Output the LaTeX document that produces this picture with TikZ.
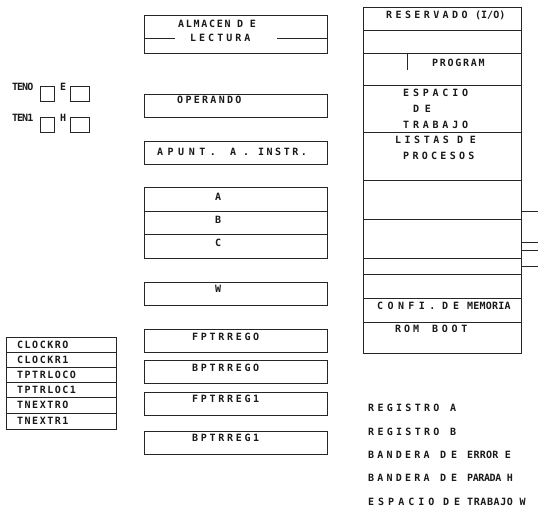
\documentclass[tikz,border=0pt]{standalone}
\usepackage{fontspec}
\newfontfamily\mono[BoldFont={DejaVu Sans Mono Bold}]{DejaVu Sans Mono}
\newcounter{wc}
\tikzset{
  lbl/.style={anchor=base west, inner sep=0pt, font=\mono\bfseries\fontsize{10}{11}\selectfont, text=black!90},
  boxline/.style={draw=black!85, line width=1pt},
}
\newcommand\wtxt[4]{\stepcounter{wc}\node[lbl,name=w\arabic{wc}] at (#1,#2+3.5) {\addfontfeature{LetterSpace=#3}#4};}
\begin{document}
\begin{tikzpicture}[x=1pt,y=-1pt]
\useasboundingbox (0,0) rectangle (538,507);
% ---- small flag boxes
\draw[boxline] (40,86) rectangle (54,101);
\draw[boxline] (70,86) rectangle (89,101);
\draw[boxline] (40,117) rectangle (54,132);
\draw[boxline] (70,117) rectangle (89,132);
\wtxt{12}{86.5}{-10}{TENO}
\wtxt{60}{86.5}{0}{E}
\wtxt{12}{118}{-10}{TEN1}
\wtxt{60}{118}{0}{H}
% ---- middle column
\draw[boxline] (144,15) rectangle (327,53);
\draw[boxline] (144,38) -- (175,38);
\draw[boxline] (277,38) -- (327,38);
\wtxt{178}{23.5}{17}{ALMACEN}
\wtxt{237}{23.5}{67}{DE}
\wtxt{190}{38}{30}{LECTURA}
\draw[boxline] (144,94) rectangle (327,117);
\wtxt{177}{100}{23}{OPERANDO}
\draw[boxline] (144,141) rectangle (327,164);
\wtxt{157}{152}{45}{APUNT.}
\wtxt{230}{152}{0}{A}
\wtxt{243}{152}{0}{.}
\wtxt{258}{152}{25}{INSTR.}
\draw[boxline] (144,187) rectangle (327,258);
\draw[boxline] (144,211) -- (327,211);
\draw[boxline] (144,234) -- (327,234);
\wtxt{215}{196.7}{0}{A}
\wtxt{215}{220}{0}{B}
\wtxt{215}{243}{0}{C}
\draw[boxline] (144,282) rectangle (327,305);
\wtxt{215}{289}{0}{W}
\draw[boxline] (144,329) rectangle (327,352);
\wtxt{192}{336.7}{27}{FPTRREGO}
\draw[boxline] (144,360) rectangle (327,383);
\wtxt{192}{367.7}{27}{BPTRREGO}
\draw[boxline] (144,392) rectangle (327,415);
\wtxt{192}{399}{27}{FPTRREG1}
\draw[boxline] (144,431) rectangle (327,454);
\wtxt{192}{438}{27}{BPTRREG1}
% ---- right column (memory map)
\draw[boxline] (363,7) rectangle (521,353);
\foreach \yy in {30,53.5,85,132,180,219,258,274,298,322}
  \draw[boxline] (363,\yy) -- (521,\yy);
\draw[boxline] (407,54) -- (407,70);
\foreach \yy in {211,242,250,266}
  \draw[boxline] (521,\yy) -- (538,\yy);
\wtxt{386}{15}{34}{RESERVADO}
\wtxt{475}{15}{0}{(I/O)}
\wtxt{432}{63.3}{17}{PROGRAM}
\wtxt{403}{93.3}{38}{ESPACIO}
\wtxt{413}{109}{56}{DE}
\wtxt{403}{125}{38}{TRABAJO}
\wtxt{395}{140}{35}{LISTAS}
\wtxt{457}{140}{66}{DE}
\wtxt{403}{156}{33}{PROCESOS}
\wtxt{377}{306}{44}{CONFI.}
\wtxt{442}{306}{50}{DE}
\wtxt{467}{306}{2}{MEMORIA}
\wtxt{395}{329.3}{30}{ROM}
\wtxt{432}{329.3}{37}{BOOT}
% ---- left register list
\draw[boxline] (6,337) rectangle (116,429);
\foreach \yy in {352,367,382,397,413}
  \draw[boxline] (6,\yy) -- (116,\yy);
\wtxt{17}{344.5}{15}{CLOCKRO}
\wtxt{17}{359.5}{15}{CLOCKR1}
\wtxt{17}{374.5}{15}{TPTRLOCO}
\wtxt{17}{389.8}{15}{TPTRLOC1}
\wtxt{17}{405.3}{15}{TNEXTRO}
\wtxt{17}{421.3}{15}{TNEXTR1}
% ---- legend
\wtxt{368}{408.3}{33}{REGISTRO}
\wtxt{450}{408.3}{0}{A}
\wtxt{368}{431.7}{33}{REGISTRO}
\wtxt{450}{431.7}{0}{B}
\wtxt{368}{455}{32}{BANDERA}
\wtxt{440}{455}{50}{DE}
\wtxt{467}{455}{3}{ERROR E}
\wtxt{368}{478.3}{32}{BANDERA}
\wtxt{440}{478.3}{50}{DE}
\wtxt{467}{478.3}{-4}{PARADA H}
\wtxt{368}{501.7}{40}{ESPACIO}
\wtxt{443}{501.7}{50}{DE}
\wtxt{467}{501.7}{6}{TRABAJO W}
\end{tikzpicture}
\end{document}
